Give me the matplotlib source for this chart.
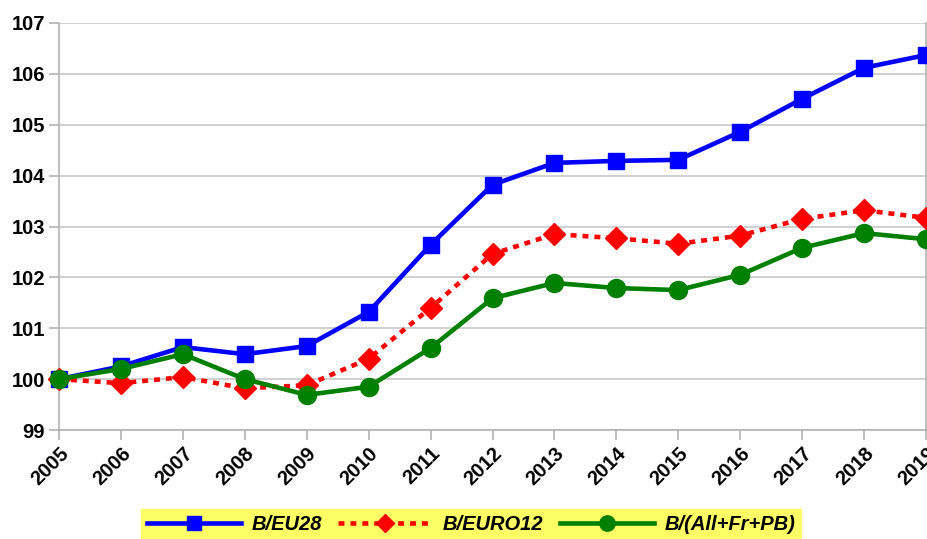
import numpy as np
from matplotlib import pyplot as plt

years = np.arange(2005, 2020)
eu28 = [100.0, 100.25, 100.63, 100.49, 100.65, 101.32, 102.64, 103.82,
        104.25, 104.29, 104.31, 104.86, 105.51, 106.12, 106.37]
euro12 = [100.0, 99.92, 100.04, 99.82, 99.88, 100.40, 101.40, 102.46,
          102.85, 102.77, 102.66, 102.82, 103.15, 103.32, 103.17]
allfrpb = [100.0, 100.20, 100.49, 100.0, 99.69, 99.85, 100.61, 101.59,
           101.89, 101.79, 101.75, 102.05, 102.58, 102.87, 102.75]
labels = ['B/EU28', 'B/EURO12', 'B/(All+Fr+PB)']

plt.rcParams['font.family'] = ['Liberation Sans', 'DejaVu Sans']

fig = plt.figure(figsize=(9.28, 5.39), dpi=100)
ax = fig.add_axes([59/928, 1-430/539, (926-59)/928, (430-23)/539])

ax.plot(years, eu28, color='#0000ff', linewidth=3.3, marker='s',
        markersize=12, label=labels[0], clip_on=False, zorder=3)
ax.plot(years, euro12, color='#ff0000', linewidth=3.3, linestyle=(0, (1.3, 1.3)),
        marker='D', markersize=11, label=labels[1], clip_on=False, zorder=3)
ax.plot(years, allfrpb, color='#008000', linewidth=3.3, marker='o',
        markersize=13, label=labels[2], clip_on=False, zorder=3)

ax.set_xlim(2005, 2019)
ax.set_ylim(99, 107)
ax.set_xticks(years)
ax.set_xticklabels([str(y) for y in years], rotation=45, ha='right',
                   rotation_mode='anchor', fontsize=14.5, fontweight='bold')
ax.set_yticks(range(99, 108))
ax.set_yticklabels([str(v) for v in range(99, 108)], fontsize=14.5, fontweight='bold')
ax.grid(axis='y', color='#c8c8c8', linewidth=1.2)
ax.set_axisbelow(True)
for s in ['left', 'right', 'bottom', 'top']:
    ax.spines[s].set_color('#b3b3b3')
    ax.spines[s].set_linewidth(1.2)
ax.spines['top'].set_visible(False)
ax.tick_params(axis='both', direction='out', length=7, color='#b3b3b3',
               width=1.2, pad=3)

leg = fig.legend(loc='lower center', bbox_to_anchor=(471/928, -0.02), ncol=3,
                 frameon=True, fancybox=False, handlelength=4.7,
                 columnspacing=0.8, handletextpad=0.5, borderpad=0.3,
                 markerscale=0.85,
                 prop={'size': 14.5, 'weight': 'bold', 'style': 'italic'})
leg.get_frame().set_facecolor('#ffff66')
leg.get_frame().set_edgecolor('#ffff66')
leg.get_frame().set_alpha(1)

fig.savefig('out.png', dpi=100)
